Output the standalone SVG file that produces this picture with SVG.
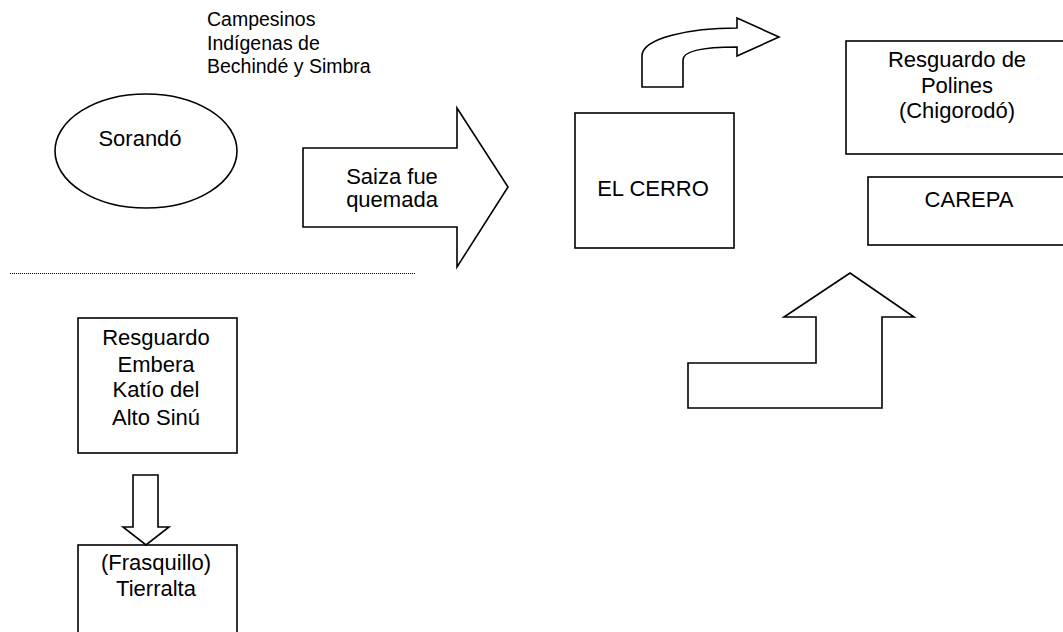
<svg xmlns="http://www.w3.org/2000/svg" width="1063" height="632" viewBox="0 0 1063 632">
<style>
.s{fill:#fff;stroke:#000;stroke-width:1.6}
.t{font-family:"Liberation Sans",Arial,sans-serif;font-size:22px;fill:#000;text-anchor:middle}
.tl{font-family:"Liberation Sans",Arial,sans-serif;font-size:19.5px;fill:#000}
.dot{stroke:#000;stroke-width:1;stroke-dasharray:1 1;fill:none}
</style>
<rect width="1063" height="632" fill="#fff"/>
<g id="label-campesinos">
<text class="tl" x="207" y="26">Campesinos</text>
<text class="tl" x="207" y="49.5">Indígenas de</text>
<text class="tl" x="207" y="73">Bechindé y Simbra</text>
</g>
<g id="sorando">
<ellipse class="s" cx="146" cy="151" rx="91" ry="57"/>
<text class="t" x="140" y="146">Sorandó</text>
</g>
<g id="separator">
<line class="dot" x1="10" y1="273.5" x2="415" y2="273.5"/>
</g>
<g id="saiza">
<path class="s" d="M303,148 L457,148 L457,108 L508,187 L457,267 L457,227 L303,227 Z"/>
<text class="t" x="392" y="184">Saiza fue</text>
<text class="t" x="392" y="207">quemada</text>
</g>
<g id="el-cerro">
<rect class="s" x="575" y="113" width="159" height="135"/>
<text class="t" x="653" y="196">EL CERRO</text>
</g>
<g id="resguardo-polines">
<rect class="s" x="846" y="41" width="230" height="113"/>
<text class="t" x="957" y="67">Resguardo de</text>
<text class="t" x="957" y="93">Polines</text>
<text class="t" x="957" y="118">(Chigorodó)</text>
</g>
<g id="carepa">
<rect class="s" x="868" y="177" width="210" height="68"/>
<text class="t" x="969" y="207">CAREPA</text>
</g>
<g id="resguardo-embera">
<rect class="s" x="78" y="318" width="159" height="135"/>
<text class="t" x="156" y="345">Resguardo</text>
<text class="t" x="156" y="372">Embera</text>
<text class="t" x="156" y="397">Katío del</text>
<text class="t" x="156" y="425">Alto Sinú</text>
</g>
<g id="tierralta">
<rect class="s" x="78" y="545" width="159" height="100"/>
<text class="t" x="156" y="570">(Frasquillo)</text>
<text class="t" x="156" y="596">Tierralta</text>
</g>
<g id="connectors">
<path class="s" d="M642,87 L642,56 C642,38 690,28 737,28 L737,18 L779,37 L737,56 L737,47 C705,47 683,50 683,60 L683,87 Z"/>
<path class="s" d="M850,273 L914,317 L882,317 L882,408 L688,408 L688,363 L816,363 L816,317 L784,317 Z"/>
<path class="s" d="M133,475 L158,475 L158,527 L169,527 L146,545 L123,527 L133,527 Z"/>
</g>
</svg>
